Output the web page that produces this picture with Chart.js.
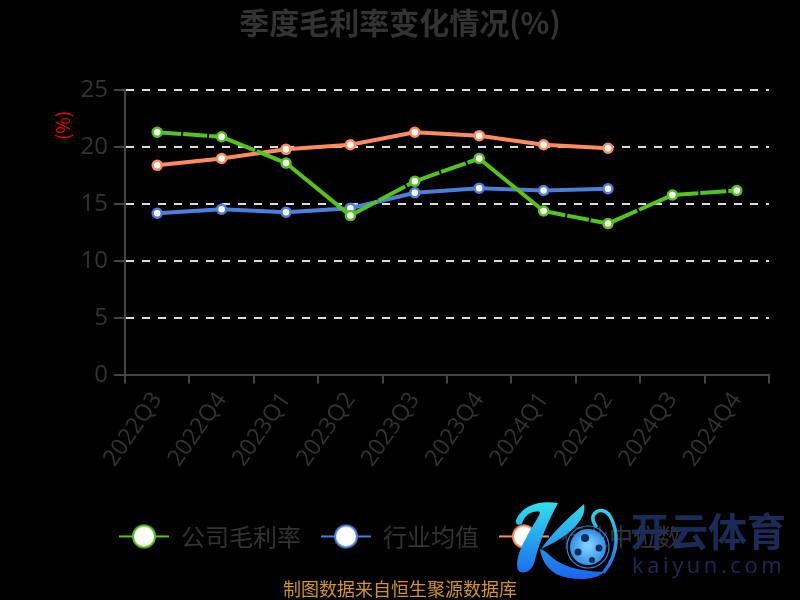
<!DOCTYPE html>
<html><head><meta charset="utf-8">
<style>html,body{margin:0;padding:0;background:#000}#w{position:relative;width:800px;height:600px}</style>
<script src="https://cdn.jsdelivr.net/npm/chart.js@4/dist/chart.umd.js"></script>
</head><body><div id="w"><canvas id="c" width="800" height="600"></canvas></div>
<script>
const categories=["2022Q3","2022Q4","2023Q1","2023Q2","2023Q3","2023Q4","2024Q1","2024Q2","2024Q3","2024Q4"];
const companyMargin=[21.3,20.9,18.6,14.0,17.0,19.0,14.4,13.3,15.8,16.2];
const industryAvg=[14.2,14.55,14.3,14.65,16.0,16.4,16.2,16.35];
const industryMedian=[18.4,19.0,19.8,20.2,21.3,21.0,20.2,19.9];
const seriesNames=["公司毛利率","行业均值","行业中位数"];
const seriesColors=["#52c41a","#4a7fdc","#ff8c5f"];
const companyDash=[[24,2],[36,2],[],[30,2],[26,2],[],[22,2],[32,2],[26,2]];
const titleText="季度毛利率变化情况(%)";
const noteText="制图数据来自恒生聚源数据库";
const unitText="(%)";
const brandText="开云体育";
const brandSite="kaiyun.com";
const FONT='"Noto Sans CJK SC","Open Sans",sans-serif';
const TICKFONT='"Open Sans","Noto Sans CJK SC",sans-serif';
function marker(color){
  const cv=document.createElement('canvas');cv.width=50;cv.height=26;
  const g=cv.getContext('2d');
  g.strokeStyle=color;g.lineWidth=2;g.beginPath();g.moveTo(0,13);g.lineTo(50,13);g.stroke();
  g.fillStyle='#fff';g.beginPath();g.arc(25,13,11,0,Math.PI*2);g.fill();g.stroke();
  return cv;
}
const markers=seriesColors.map(marker);
function ds(label,data,color){return{label,data,borderColor:color,backgroundColor:'#fff',borderWidth:4,pointRadius:4.5,pointBorderWidth:2.5,pointBackgroundColor:'#fff',pointBorderColor:color,tension:0,spanGaps:false}}
function watermark(g){
  g.save();
  const grad=g.createLinearGradient(0,500,0,580);
  grad.addColorStop(0,'#2fe3ee');grad.addColorStop(1,'#1a62ee');
  g.strokeStyle=grad;g.fillStyle=grad;g.lineCap='round';
  // K stem
  g.beginPath();g.moveTo(516,520);
  g.bezierCurveTo(522,505,540,500,558,503);
  g.bezierCurveTo(548,522,540,540,535,560);
  g.bezierCurveTo(533,570,526,574,520,572);
  g.bezierCurveTo(514,568,518,552,526,538);
  g.bezierCurveTo(532,526,540,516,540,512);
  g.bezierCurveTo(532,510,524,516,522,524);
  g.bezierCurveTo(518,526,515,524,516,520);
  g.fill();
  // K arm
  g.beginPath();g.moveTo(584,504);
  g.bezierCurveTo(588,520,566,538,541,549);
  g.bezierCurveTo(556,528,572,515,584,504);g.fill();
  // sweep
  g.beginPath();g.moveTo(540,549);
  g.bezierCurveTo(552,552,552,570,604,572);
  g.bezierCurveTo(598,580,572,582,556,574);
  g.bezierCurveTo(546,568,541,558,540,549);g.fill();
  // right curl
  g.lineWidth=3.5;g.beginPath();g.moveTo(596,526);g.bezierCurveTo(586,514,602,504,610,516);g.bezierCurveTo(618,530,620,552,604,572);g.stroke();
  // ball
  const b=g.createRadialGradient(588,545,3,588,548,19);
  b.addColorStop(0,'#7ccdff');b.addColorStop(1,'#2a8ce6');
  g.fillStyle=b;g.beginPath();g.arc(588,547,18,0,Math.PI*2);g.fill();
  g.strokeStyle='#2a8ae8';g.lineWidth=1.2;g.beginPath();g.arc(588,547,21,0,Math.PI*2);g.stroke();
  g.fillStyle='#0d2c5e';
  [[585,538,4],[599,548,3.5],[578,552,3.5],[592,560,3]].forEach(p=>{g.beginPath();g.arc(p[0],p[1],p[2],0,Math.PI*2);g.fill();});
  // brand text
  g.globalAlpha=.88;g.fillStyle='#1b3263';g.textAlign='left';g.textBaseline='alphabetic';
  g.font='bold 39px "Noto Sans CJK SC",sans-serif';g.fillText(brandText,630,546);
  g.font='22px "Open Sans",sans-serif';g.letterSpacing='3.6px';g.fillText(brandSite,632,573);
  g.restore();
}
const extras={id:'extras',afterDraw(ch){
  const g=ch.ctx,y=ch.scales.y;
  watermark(g);
  g.save();g.translate(63,y.getPixelForValue(21.9));g.rotate(-Math.PI/2);
  g.fillStyle='#f00';g.font='18px '+FONT;g.textAlign='center';g.textBaseline='middle';g.fillText(unitText,0,0);g.restore();
}};
const datasets=[ds(seriesNames[0],companyMargin,seriesColors[0]),ds(seriesNames[1],industryAvg,seriesColors[1]),ds(seriesNames[2],industryMedian,seriesColors[2])];
datasets[0].segment={borderDash:ctx=>companyDash[ctx.p0DataIndex]};
new Chart(document.getElementById('c'),{type:'line',
 data:{labels:categories,datasets},
 plugins:[extras],
 options:{responsive:false,animation:false,devicePixelRatio:1,
  layout:{padding:{left:31,right:31,top:0,bottom:0}},
  plugins:{
   title:{display:true,text:titleText,color:'#333',font:{family:FONT,size:30,weight:'bold'},padding:{top:5,bottom:49}},
   subtitle:{display:true,position:'bottom',text:noteText,color:'#d4951c',font:{family:FONT,size:18},padding:{top:20,bottom:0}},
   legend:{position:'bottom',labels:{color:'#333',font:{family:FONT,size:24},usePointStyle:true,pointStyleWidth:50,padding:20,
     generateLabels(ch){return ch.data.datasets.map((d,i)=>({text:d.label,fontColor:'#333',pointStyle:markers[i],datasetIndex:i,hidden:false,lineWidth:0,strokeStyle:'transparent',fillStyle:'transparent'}))}}},
   tooltip:{enabled:false}
  },
  scales:{
   x:{offset:true,grid:{offset:true,drawOnChartArea:false,color:'#444',lineWidth:2,tickLength:8},border:{color:'#444',width:2},
      afterFit(s){s.height=129},
      ticks:{color:'#333',font:{family:TICKFONT,size:23},minRotation:55,maxRotation:55,autoSkip:false,padding:4}},
   y:{min:0,max:25,grid:{color:'#ddd',lineWidth:2,tickLength:11,tickColor:'#444',drawTicks:true},border:{color:'#444',width:2,dash:[8,8],display:true},
      afterFit(s){s.width=94},
      ticks:{stepSize:5,color:'#333',font:{family:TICKFONT,size:24},padding:6}}
  }
 }});
</script></body></html>
